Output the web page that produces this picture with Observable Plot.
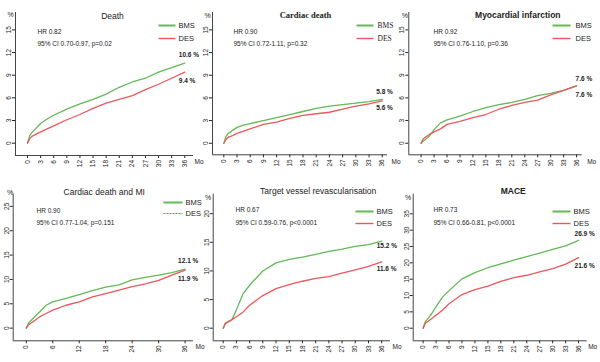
<!DOCTYPE html>
<html><head><meta charset="utf-8">
<script src="https://cdn.jsdelivr.net/npm/d3@7"></script>
<script src="https://cdn.jsdelivr.net/npm/@observablehq/plot@0.6"></script>
<style>
body{margin:0;background:#fff}
#wrap{position:relative;width:600px;height:362px;overflow:hidden;background:#fff}
.p{position:absolute;width:200px;height:181px}
</style></head><body><div id="wrap"></div>
<script>
// ---------- data ----------
const months = [0, 0.5, 1, 2, 3, 4.5, 6, 9, 12, 15, 18, 21, 24, 27, 30, 33, 36];
const deathBMS   = [0, 1.0, 1.4, 2.0, 2.6, 3.2, 3.7, 4.5, 5.2, 5.8, 6.5, 7.4, 8.1, 8.6, 9.4, 10.0, 10.6];
const deathDES   = [0, 0.6, 0.9, 1.2, 1.5, 1.9, 2.3, 3.1, 3.8, 4.6, 5.3, 5.8, 6.3, 7.1, 7.8, 8.6, 9.4];
const cardBMS    = [0, 0.9, 1.3, 1.7, 2.1, 2.4, 2.6, 3.0, 3.4, 3.8, 4.2, 4.6, 4.9, 5.1, 5.3, 5.5, 5.8];
const cardDES    = [0, 0.5, 0.8, 1.0, 1.3, 1.6, 1.9, 2.5, 2.8, 3.3, 3.7, 3.9, 4.1, 4.5, 4.9, 5.2, 5.6];
const miBMS      = [0, 0.3, 0.5, 1.0, 1.8, 2.7, 3.1, 3.6, 4.2, 4.7, 5.1, 5.4, 5.8, 6.3, 6.6, 7.0, 7.6];
const miDES      = [0, 0.6, 0.8, 1.2, 1.5, 1.9, 2.5, 2.9, 3.4, 3.8, 4.5, 5.0, 5.4, 5.7, 6.4, 7.0, 7.6];
const cdmiBMS    = [0, 1.0, 1.5, 2.4, 3.3, 4.7, 5.4, 6.1, 6.9, 7.7, 8.4, 8.9, 9.9, 10.4, 10.9, 11.4, 12.1];
const cdmiDES    = [0, 0.7, 1.0, 1.6, 2.3, 3.0, 3.7, 4.7, 5.4, 6.4, 7.1, 7.8, 8.5, 9.1, 9.8, 10.9, 11.9];
const tvrBMS     = [0, 0.8, 1.0, 1.5, 3.2, 6.0, 7.5, 10.0, 11.4, 12.0, 12.4, 12.9, 13.4, 13.8, 14.3, 14.6, 15.2];
const tvrDES     = [0, 0.9, 1.1, 1.5, 2.0, 2.8, 4.0, 5.7, 6.9, 7.6, 8.2, 8.7, 9.0, 9.6, 10.2, 10.8, 11.6];
const maceBMS    = [0, 2.0, 2.8, 4.5, 6.6, 9.5, 11.5, 15.1, 17.0, 18.5, 19.7, 20.8, 21.9, 23.0, 24.1, 25.2, 26.9];
const maceDES    = [0, 1.5, 2.0, 3.0, 4.0, 5.6, 7.5, 10.3, 11.8, 12.9, 14.3, 15.5, 16.2, 17.2, 18.2, 19.6, 21.6];

const groups = ["BMS", "DES"];
const titles = ["Death", "Cardiac death", "Myocardial infarction", "Cardiac death and MI", "Target vessel revascularisation", "MACE"];
const hrLabels = ["HR 0.82", "HR 0.90", "HR 0.92", "HR 0.90", "HR 0.67", "HR 0.73"];
const ciLabels = ["95% CI 0.70-0.97, p=0.02", "95% CI 0.72-1.11, p=0.32", "95% CI 0.76-1.10, p=0.36",
                  "95% CI 0.77-1.04, p=0.151", "95% CI 0.59-0.76, p<0.0001", "95% CI 0.66-0.81, p<0.0001"];
const bmsEndLabels = ["10.6 %", "5.8 %", "7.6 %", "12.1 %", "15.2 %", "26.9 %"];
const desEndLabels = ["9.4 %", "5.6 %", "7.6 %", "11.9 %", "11.6 %", "21.6 %"];
const xTicksQuarter = [0, 3, 6, 9, 12, 15, 18, 21, 24, 27, 30, 33, 36];
const xTicksHalf = [0, 6, 12, 18, 24, 30, 36];
const yTicks15 = [0, 3, 6, 9, 12, 15];
const yTicks25 = [0, 5, 10, 15, 20, 25];
const yTicks20 = [0, 5, 10, 15, 20];
const yTicks35 = [0, 5, 10, 15, 20, 25, 30, 35];
const xUnit = "Mo";
const yUnit = "%";

const seriesData = [[deathBMS, deathDES], [cardBMS, cardDES], [miBMS, miDES], [cdmiBMS, cdmiDES], [tvrBMS, tvrDES], [maceBMS, maceDES]];
const xTickSets = [xTicksQuarter, xTicksQuarter, xTicksQuarter, xTicksHalf, xTicksQuarter, xTicksQuarter];
const yTickSets = [yTicks15, yTicks15, yTicks15, yTicks25, yTicks20, yTicks35];

// ---------- layout (styles / positions) ----------
const GREEN = "#62b957", RED = "#e9585c", INK = "#222";
const SANS = "Liberation Sans, Arial, sans-serif", SERIF = "Liberation Serif, Times New Roman, serif";
const layout = [
  {ml:15, mr:7, mt:12, mb:26, xd:[-2.75,38], yd:[-1.63,17.3], titleDx:97, titleDy:0, titleW:"normal", titleF:SANS, legF:SANS,
   hr:[22,17], ci:29, leg:{x1:158,x2:175,y1:25,y2:38,tx:178}, endDx:-6, endDy:[-8,9], mo:1, moDy:8, pct:[-5,0]},
  {ml:12, mr:13, mt:12, mb:26.7, xd:[-2.57,37.2], yd:[-1.53,17.3], titleDx:93, titleDy:-1, titleW:"bold", titleF:SERIF, legF:SERIF,
   hr:[21,17], ci:29, leg:{x1:156,x2:173,y1:25,y2:38,tx:177}, endDx:-6, endDy:[-8,7], mo:4, moDy:9, pct:[-5,1]},
  {ml:8.3, mr:18.3, mt:12, mb:26.7, xd:[-2.85,37.3], yd:[-1.53,17.3], titleDx:109, titleDy:-1, titleW:"bold", titleF:SANS, legF:SANS,
   hr:[24.7,17], ci:29, leg:{x1:152,x2:170,y1:25,y2:38,tx:175}, endDx:-1, endDy:[-7,9], mo:5, moDy:9, pct:[-4,1]},
  {ml:12.7, mr:7, mt:12.7, mb:21.7, xd:[-2.96,37.9], yd:[-2.6,27.5], titleDx:91, titleDy:-5, titleW:"normal", titleF:SANS, legF:SANS,
   hr:[23.3,14.3], ci:26.3, leg:{x1:163,x2:182,y1:21,y2:32,tx:185,dash:true}, endDx:-7, endDy:[-8,9], mo:2, moDy:8, pct:[-3,-4]},
  {ml:12.7, mr:10, mt:12.7, mb:21.7, xd:[-2.27,38], yd:[-2.2,23.4], titleDx:105, titleDy:-6, titleW:"normal", titleF:SANS, legF:SANS,
   hr:[22.3,13.3], ci:26.3, leg:{x1:155,x2:173,y1:30,y2:42,tx:176}, endDx:-5, endDy:[5,7], mo:2, moDy:8, pct:[-5,1]},
  {ml:12.7, mr:13.3, mt:12.7, mb:21.7, xd:[-2.3,38], yd:[-3.85,41], titleDx:100, titleDy:-6, titleW:"bold", titleF:SANS, legF:SANS,
   hr:[20.3,13.3], ci:26.3, leg:{x1:152,x2:170,y1:30,y2:42,tx:173}, endDx:-4, endDy:[-6,8], mo:1, moDy:8, pct:[-5,1]}
];

function panel(i) {
  const L = layout[i];
  const [bms, des] = seriesData[i];
  const rows = [];
  months.forEach((m, k) => rows.push({m, v: bms[k], g: groups[0]}));
  months.forEach((m, k) => rows.push({m, v: des[k], g: groups[1]}));
  const W = 200, H = 181;
  const fw = W - L.ml - L.mr, fh = H - L.mt - L.mb;
  // pixel -> data helpers for legend swatches
  const invX = px => L.xd[0] + (px - L.ml) / fw * (L.xd[1] - L.xd[0]);
  const invY = py => L.yd[1] - (py - L.mt) / fh * (L.yd[1] - L.yd[0]);
  const last = months.length - 1;
  const endB = [{m: months[last], v: bms[last], t: bmsEndLabels[i]}];
  const endD = [{m: months[last], v: des[last], t: desEndLabels[i]}];
  const lg = L.leg;
  return Plot.plot({
    width: W, height: H,
    marginLeft: L.ml, marginRight: L.mr, marginTop: L.mt, marginBottom: L.mb,
    x: {domain: L.xd, ticks: xTickSets[i], tickRotate: -90, tickSize: 3, tickPadding: 1.5, label: null, tickFormat: d => String(d)},
    y: {domain: L.yd, ticks: yTickSets[i], tickRotate: -90, tickSize: 3, tickPadding: 1.5, label: null, tickFormat: d => String(d)},
    color: {domain: groups, range: [GREEN, RED]},
    style: {fontFamily: SANS, fontSize: "6.5px", color: INK, overflow: "visible", background: "transparent"},
    marks: [
      Plot.ruleX([L.xd[0]], {stroke: "#444", strokeWidth: 1}),
      Plot.ruleY([L.yd[0]], {stroke: "#444", strokeWidth: 1}),
      Plot.line(rows, {x: "m", y: "v", z: "g", stroke: "g", strokeWidth: 1.3}),
      Plot.text([titles[i]], {frameAnchor: "top-left", dx: L.titleDx, dy: L.titleDy, text: d => d, textAnchor: "middle",
        fontSize: 8.5, fontWeight: L.titleW, fontFamily: L.titleF, fill: INK}),
      Plot.text([yUnit], {frameAnchor: "top-left", dx: L.pct[0], dy: L.pct[1], text: d => d, textAnchor: "middle", fontSize: 7, fill: INK}),
      Plot.text([xUnit], {frameAnchor: "bottom-right", dx: L.mo, dy: L.moDy, text: d => d, textAnchor: "start", fontSize: 6.5, fill: INK}),
      Plot.text([hrLabels[i]], {frameAnchor: "top-left", dx: L.hr[0], dy: L.hr[1], text: d => d, textAnchor: "start", fontSize: 6.5, fill: INK}),
      Plot.text([ciLabels[i]], {frameAnchor: "top-left", dx: L.hr[0], dy: L.ci, text: d => d, textAnchor: "start", fontSize: 6.5, fill: INK}),
      Plot.link([groups[0]], {x1: invX(lg.x1), x2: invX(lg.x2), y1: invY(lg.y1), y2: invY(lg.y1), stroke: GREEN, strokeWidth: 2}),
      Plot.link([groups[1]], {x1: invX(lg.x1), x2: invX(lg.x2), y1: invY(lg.y2), y2: invY(lg.y2), stroke: RED,
        strokeWidth: lg.dash ? 1 : 1.4, strokeDasharray: lg.dash ? "2,1" : null}),
      Plot.text(groups, {x: invX(lg.tx), y: (d, k) => invY(k === 0 ? lg.y1 : lg.y2), text: d => d, textAnchor: "start",
        fontSize: 7.5, fontFamily: L.legF, fill: INK}),
      Plot.text(endB, {x: "m", y: "v", dx: L.endDx, dy: L.endDy[0], text: "t", textAnchor: "start", fontSize: 6.5, fontWeight: "bold", fill: INK}),
      Plot.text(endD, {x: "m", y: "v", dx: L.endDx, dy: L.endDy[1], text: "t", textAnchor: "start", fontSize: 6.5, fontWeight: "bold", fill: INK})
    ]
  });
}

const wrap = document.getElementById("wrap");
for (let i = 0; i < 6; i++) {
  const d = document.createElement("div");
  d.className = "p";
  d.style.left = (i % 3) * 200 + "px";
  d.style.top = Math.floor(i / 3) * 181 + "px";
  d.style.zIndex = String(10 - i);
  d.appendChild(panel(i));
  wrap.appendChild(d);
}
</script></body></html>
